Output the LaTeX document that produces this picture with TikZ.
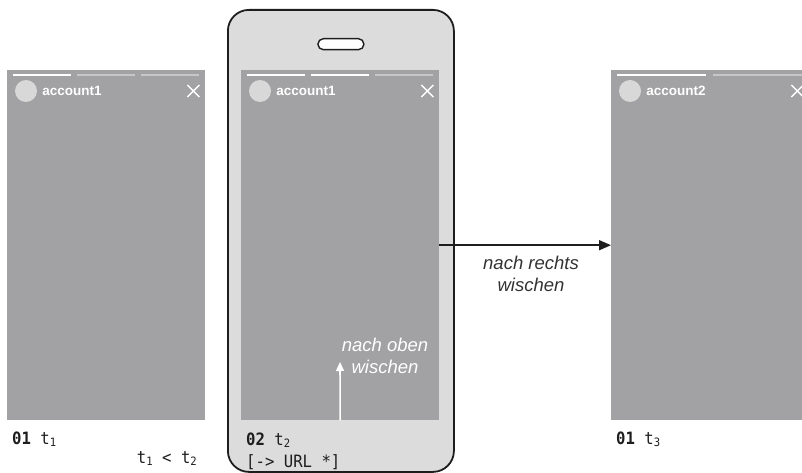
\documentclass[tikz,border=0pt]{standalone}
\usepackage{fontspec}
\setmainfont{Liberation Sans}
\setmonofont[FakeStretch=0.92]{DejaVu Sans Mono}
\usetikzlibrary{arrows.meta,positioning,calc}
\definecolor{Screen}{HTML}{A2A2A4}
\definecolor{Case}{HTML}{DCDCDC}
\definecolor{Track}{HTML}{C6C6C8}
\definecolor{Avatar}{HTML}{D8D8D8}
\definecolor{Ink}{HTML}{1E1E1E}
\definecolor{Note}{HTML}{333333}
\newcommand{\tstamp}[1]{t\raisebox{-2.5pt}{\fontsize{11.5}{11.5}\selectfont #1}}

\begin{document}
\begin{tikzpicture}[x=1pt,y=-1pt,
  screen/.style={fill=Screen,minimum width=198pt,minimum height=350pt,inner sep=0pt,anchor=north west},
  avatar/.style={circle,fill=Avatar,minimum size=22pt,inner sep=0pt},
  handle/.style={font=\fontsize{13.5}{15}\selectfont\bfseries,text=white,inner sep=0pt},
  seen/.style={white,line width=2.2pt},
  unseen/.style={Track,line width=2.2pt},
  caption/.style={font=\fontsize{17}{20}\selectfont\ttfamily,text=Ink,inner sep=0pt,anchor=base west},
  hint/.style={font=\fontsize{18.5}{22}\selectfont\itshape,align=center,inner sep=0pt}]
  \path[use as bounding box,clip] (0,0) rectangle (802,473);
  % phone frame
  \node[draw=Ink,line width=1.8pt,fill=Case,rounded corners=21pt,minimum width=226pt,minimum height=462pt,anchor=north west] (phone) at (227,9) {};
  \node[draw=Ink,line width=1.4pt,fill=white,rounded corners=5.5pt,minimum width=46pt,minimum height=11pt,inner sep=0pt,below=29pt of phone.north] (speaker) {};
  % screens
  \node[screen] (scr1) at (7,70) {};
  \node[screen] (scr2) at (241,70) {};
  \node[screen] (scr3) at (611,70) {};
  % story progress
  \draw[seen] (13,75) -- (71,75);
  \draw[unseen] (77,75) -- (135,75) (141,75) -- (199,75);
  \draw[seen] (247,75) -- (305,75) (311,75) -- (369,75);
  \draw[unseen] (375,75) -- (433,75);
  \draw[seen] (617,75) -- (706,75);
  \draw[unseen] (713,75) -- (803,75);
  % header
  \foreach \s/\acc in {scr1/account1,scr2/account1,scr3/account2}{
    \node[avatar] (\s-av) at ($(\s.north west)+(19,21)$) {};
    \node[handle,right=5pt of \s-av] (\s-acc) {\acc};
    \draw[white,line width=1.4pt] ($(\s.north east)+(-18,15)$) -- ++(12,12)
      ($(\s.north east)+(-6,15)$) -- ++(-12,12);
  }
  % swipes
  \coordinate (up) at (340,362);
  \draw[white,line width=1.6pt,-{Triangle[length=9pt,width=8pt]}] (scr2.south) -- (up);
  \node[hint,text=white] (upnote) at (385,356) {nach oben\\wischen};
  \draw[Ink,line width=1.6pt,-{Triangle[length=12pt,width=10pt]}] (scr2.east) -- (scr3.west);
  \node[hint,text=Note] (rightnote) at (531,274) {nach rechts\\wischen};
  % captions
  \node[caption] (cap1) at (12,444) {\textbf{01} \tstamp1};
  \node[caption] (cap2) at (246,445) {\textbf{02} \tstamp2};
  \node[caption] (cap2b) at (246,467) {[-> URL *]};
  \node[caption] (cap3) at (616,444) {\textbf{01} \tstamp3};
  \node[caption,anchor=base east] (order) at (197,463) {\tstamp1 < \tstamp2};
\end{tikzpicture}
\end{document}
